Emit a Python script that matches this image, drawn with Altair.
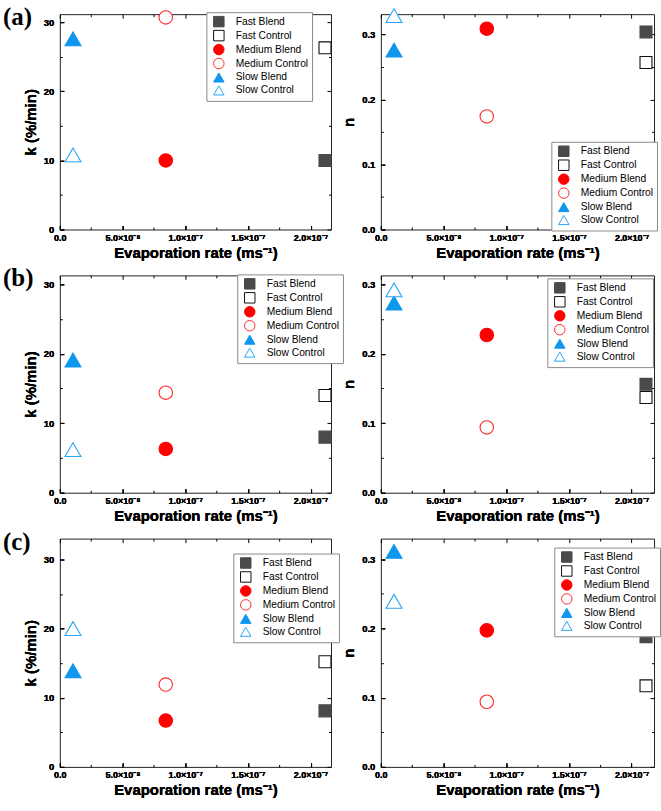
import altair as alt
import pandas as pd

# Series and their evaporation rates (m/s)
SERIES = ["Fast Blend", "Fast Control", "Medium Blend", "Medium Control", "Slow Blend", "Slow Control"]
EVAP_RATE = [2.115e-7, 2.115e-7, 8.45e-8, 8.45e-8, 1.05e-8, 1.05e-8]

# Fitted parameters for the three conditions (a), (b), (c)
K_A = [10.0, 26.3, 10.0, 30.7, 27.6, 10.8]
N_A = [0.304, 0.257, 0.309, 0.174, 0.276, 0.329]
K_B = [8.0, 14.0, 6.3, 14.4, 19.1, 6.2]
N_B = [0.156, 0.137, 0.227, 0.094, 0.273, 0.292]
K_C = [8.1, 15.2, 6.7, 11.9, 13.9, 20.0]
N_C = [0.188, 0.117, 0.197, 0.094, 0.311, 0.239]

# Ticks
X_MAJOR = [0.0, 5e-8, 1e-7, 1.5e-7, 2e-7]
X_MAJOR_LABELS = ["0.0", "5.0×10⁻⁸", "1.0×10⁻⁷", "1.5×10⁻⁷", "2.0×10⁻⁷"]
X_MINOR = [2.5e-8, 7.5e-8, 1.25e-7, 1.75e-7]
K_MAJOR = [0, 10, 20, 30]
K_MINOR = [5, 15, 25]
N_MAJOR = [0.0, 0.1, 0.2, 0.3]
N_MINOR = [0.05, 0.15, 0.25]

# Marker styles
FILL_COLORS = ["#4a4a4a", "white", "#ff0000", "white", "#0f97ee", "white"]
STROKE_COLORS = ["#4a4a4a", "#111111", "#ff0000", "#ff2a2a", "#0f97ee", "#2aa5f5"]
SHAPES = ["square", "square", "circle", "circle", "triangle-up", "triangle-up"]
SHAPE_SIZES = {"square": 144, "circle": 182, "triangle-up": 256}

FONT = "Liberation Sans"
X_TITLE = "Evaporation rate (ms⁻¹)"


def label_expr(values, labels):
    expr = f"'{labels[-1]}'"
    for v, lab in zip(values[-2::-1], labels[-2::-1]):
        expr = f"abs(datum.value - {v!r}) < 1e-12 ? '{lab}' : ({expr})"
    return expr


X_LABEL_EXPR = label_expr(X_MAJOR, X_MAJOR_LABELS)


def axis(orient, values, size, **kw):
    # inward ticks: the axis line is pushed inside the frame by the tick length
    base = dict(orient=orient, values=values, domain=False, grid=False,
                ticks=True, tickSize=size, offset=-size, tickColor="black",
                tickWidth=1, labelFlush=False, labelOverlap=False)
    base.update(kw)
    if "labels" not in kw:
        base["labels"] = False
        base["title"] = None
    return alt.Axis(**base)


def panel(values, y_title, y_max, y_major, y_minor, y_fmt, x_max, width, height,
          legend_x, legend_y, label=None):
    df = pd.DataFrame({"series": SERIES, "rate": EVAP_RATE, "value": values})
    xs = alt.Scale(domain=[0, x_max], nice=False, zero=False)
    ys = alt.Scale(domain=[0, y_max], nice=False, zero=False)

    legend = alt.Legend(title=None, orient="none", legendX=legend_x, legendY=legend_y,
                        symbolSize=110, symbolStrokeWidth=1, labelFont=FONT,
                        labelFontSize=10.3, labelColor="black", padding=3.5,
                        rowPadding=-3, strokeColor="#8a8a8a", fillColor="white",
                        symbolOffset=3, labelOffset=11, labelLimit=0)

    x_axis = axis("bottom", X_MAJOR, 4, labels=True, labelExpr=X_LABEL_EXPR,
                  title=X_TITLE, labelFont=FONT, labelFontWeight="bold",
                  labelFontSize=9, labelColor="black", labelPadding=4,
                  titleFont=FONT, titleFontWeight="bold", titleFontSize=15,
                  titleColor="black", titlePadding=3)
    y_axis = axis("left", y_major, 4, labels=True, format=y_fmt,
                  title=y_title, labelFont=FONT, labelFontWeight="bold",
                  labelFontSize=9.5, labelColor="black", labelPadding=6,
                  titleFont=FONT, titleFontWeight="bold", titleFontSize=15,
                  titleColor="black", titlePadding=5)

    enc = dict(
        x=alt.X("rate:Q", scale=xs, axis=x_axis),
        y=alt.Y("value:Q", scale=ys, axis=y_axis),
        fill=alt.Fill("series:N", scale=alt.Scale(domain=SERIES, range=FILL_COLORS), legend=legend),
        stroke=alt.Stroke("series:N", scale=alt.Scale(domain=SERIES, range=STROKE_COLORS), legend=legend),
        shape=alt.Shape("series:N", scale=alt.Scale(domain=SERIES, range=SHAPES), legend=legend),
    )

    # one point layer per marker shape, so each shape gets its own size
    point_layers = []
    for shape, size in SHAPE_SIZES.items():
        members = [s for s, sh in zip(SERIES, SHAPES) if sh == shape]
        point_layers.append(
            alt.Chart(df).transform_filter(
                alt.FieldOneOfPredicate(field="series", oneOf=members)
            ).mark_point(filled=True, opacity=1, strokeWidth=1.1, size=size).encode(**enc)
        )

    def ghost(xa, ya):
        return alt.Chart(df).mark_point(opacity=0).encode(
            x=alt.X("rate:Q", scale=xs, axis=xa),
            y=alt.Y("value:Q", scale=ys, axis=ya),
        )

    layers = point_layers + [
        ghost(axis("top", X_MAJOR, 4), axis("right", y_major, 4)),
        ghost(axis("bottom", X_MINOR, 2.5), axis("left", y_minor, 2.5)),
        ghost(axis("top", X_MINOR, 2.5), axis("right", y_minor, 2.5)),
    ]
    if label:
        layers.append(
            alt.Chart(pd.DataFrame({"label": [label]})).mark_text(
                align="left", baseline="top", font="Liberation Serif",
                fontSize=25, fontWeight="bold", color="black"
            ).encode(x=alt.value(-57), y=alt.value(-9), text="label:N")
        )
    return alt.layer(*layers).resolve_axis(x="independent", y="independent").properties(
        width=width, height=height)


LW, RW = 272, 274
XL, XR = 2.163e-7, 2.179e-7

panels = [
    panel(K_A, "k (%/min)", 31.17, K_MAJOR, K_MINOR, "d", XL, LW, 216, 147, -2, "(a)"),
    panel(N_A, "n", 0.3313, N_MAJOR, N_MINOR, ".1f", XR, RW, 216, 171, 128),
    panel(K_B, "k (%/min)", 31.28, K_MAJOR, K_MINOR, "d", XL, LW, 218, 178, -1, "(b)"),
    panel(N_B, "n", 0.3128, N_MAJOR, N_MINOR, ".1f", XR, RW, 218, 167, 3),
    panel(K_C, "k (%/min)", 33.0, K_MAJOR, K_MINOR, "d", XL, LW, 229, 174, 15, "(c)"),
    panel(N_C, "n", 0.3295, N_MAJOR, N_MINOR, ".1f", XR, RW, 229, 174, 9),
]

chan = dict(fill="independent", stroke="independent", shape="independent")

chart = alt.concat(
    *panels, columns=2, spacing={"row": 46, "column": 50}, bounds="flush", align="each"
).resolve_scale(**chan).resolve_legend(**chan).properties(
    padding={"left": 2, "top": 3, "right": 0, "bottom": 0},
    background="white",
).configure_view(stroke="#222222", strokeWidth=1)

chart.save("out.html", embed_options={"renderer": "svg", "actions": False})
